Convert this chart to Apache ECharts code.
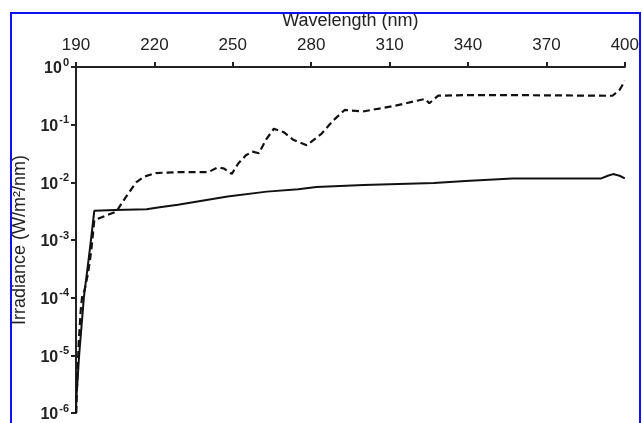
<!DOCTYPE html>
<html>
<head>
<meta charset="utf-8">
<script src="https://cdn.jsdelivr.net/npm/echarts@6/dist/echarts.min.js"></script>
<style>
  html, body { margin: 0; padding: 0; background: #fff; }
  #wrap { position: relative; width: 642px; height: 423px; overflow: hidden; }
  #chart { width: 642px; height: 423px; }
  #frame { position: absolute; left: 10px; top: 12px; width: 627px; height: 430px;
           border: 2px solid #1010f0; pointer-events: none; }
</style>
</head>
<body>
<div id="wrap">
  <div id="chart"></div>
  <div id="frame"></div>
</div>
<script>
// solid curve
var solidNm = [190, 190.2, 191.2, 193, 195.3, 197, 205, 217, 222, 229, 248, 263, 275, 282, 300, 327, 339, 357, 391, 393.5, 395.5, 398, 400];
var solidVal = [1.1e-6, 2e-6, 1e-5, 1e-4, 6.9e-4, 3.2e-3, 3.3e-3, 3.4e-3, 3.7e-3, 4.1e-3, 5.7e-3, 6.9e-3, 7.6e-3, 8.3e-3, 9.0e-3, 9.7e-3, 1.05e-2, 1.17e-2, 1.17e-2, 1.3e-2, 1.39e-2, 1.3e-2, 1.17e-2];

// dashed curve
var dashNm = [190.1, 190.4, 191, 191.8, 192.4, 193.2, 194.5, 195.2, 195.9, 197, 201, 205.4, 209, 213, 216, 220.5, 229, 240.6, 244, 246.5, 249.6, 252, 255, 257.5, 260, 262.6, 265.7, 269.5, 273.3, 278.3, 284, 288.4, 292.8, 299.7, 312.3, 323.6, 325.2, 328.6, 338.7, 360, 395.3, 398, 400];
var dashVal = [1e-6, 3e-6, 1.5e-5, 6e-5, 1.1e-4, 1.3e-4, 2.5e-4, 4e-4, 7e-4, 2.2e-3, 2.6e-3, 3.1e-3, 5.5e-3, 1.0e-2, 1.25e-2, 1.45e-2, 1.5e-2, 1.5e-2, 1.8e-2, 1.75e-2, 1.4e-2, 2.1e-2, 2.95e-2, 3.4e-2, 3.2e-2, 5.4e-2, 8.5e-2, 7.4e-2, 5.4e-2, 4.4e-2, 7e-2, 0.118, 0.18, 0.169, 0.214, 0.28, 0.235, 0.318, 0.325, 0.325, 0.317, 0.4, 0.575];

function pairs(xs, ys) {
    var out = [];
    for (var i = 0; i < xs.length; i++) {
        out.push([xs[i], ys[i]]);
    }
    return out;
}

var chart = echarts.init(document.getElementById('chart'));
chart.setOption({
    animation: false,
    backgroundColor: '#fff',
    grid: { left: 76, right: 9.5, top: 67, bottom: 8 },
    xAxis: {
        type: 'value',
        position: 'top',
        min: 190,
        max: 400,
        interval: 30,
        name: 'Wavelength (nm)',
        nameLocation: 'middle',
        nameGap: 37,
        nameTextStyle: { fontFamily: 'Liberation Sans', fontSize: 18, color: '#222' },
        axisLine: { lineStyle: { color: '#222', width: 2 } },
        axisTick: { inside: false, length: 5, lineStyle: { color: '#222', width: 2 } },
        axisLabel: { fontFamily: 'Liberation Sans', fontSize: 17, color: '#222', margin: 13 },
        splitLine: { show: false }
    },
    yAxis: {
        type: 'log',
        logBase: 10,
        min: 1e-6,
        max: 1,
        name: 'Irradiance (W/m²/nm)',
        nameLocation: 'middle',
        nameGap: 46,
        nameTextStyle: { fontFamily: 'Liberation Sans', fontSize: 18, color: '#222' },
        axisLine: { show: true, lineStyle: { color: '#222', width: 2 } },
        axisTick: { show: true, length: 5, lineStyle: { color: '#222', width: 2 } },
        minorTick: { show: false },
        splitLine: { show: false },
        axisLabel: {
            margin: 7,
            formatter: function (v) {
                var e = Math.round(Math.log10(v));
                return '{b|10}{s|' + e + '}';
            },
            rich: {
                b: { fontFamily: 'Liberation Sans', fontSize: 16, fontWeight: 'bold', color: '#222', verticalAlign: 'bottom' },
                s: { fontFamily: 'Liberation Sans', fontSize: 11, fontWeight: 'bold', color: '#222', verticalAlign: 'top', padding: [0, 0, 9, 1] }
            }
        }
    },
    series: [
        {
            name: 'solid',
            type: 'line',
            data: pairs(solidNm, solidVal),
            showSymbol: false,
            smooth: false,
            lineStyle: { color: '#111', width: 2, type: 'solid' }
        },
        {
            name: 'dashed',
            type: 'line',
            data: pairs(dashNm, dashVal),
            showSymbol: false,
            smooth: false,
            lineStyle: { color: '#111', width: 2.2, type: [7, 4] }
        }
    ]
});
</script>
</body>
</html>
